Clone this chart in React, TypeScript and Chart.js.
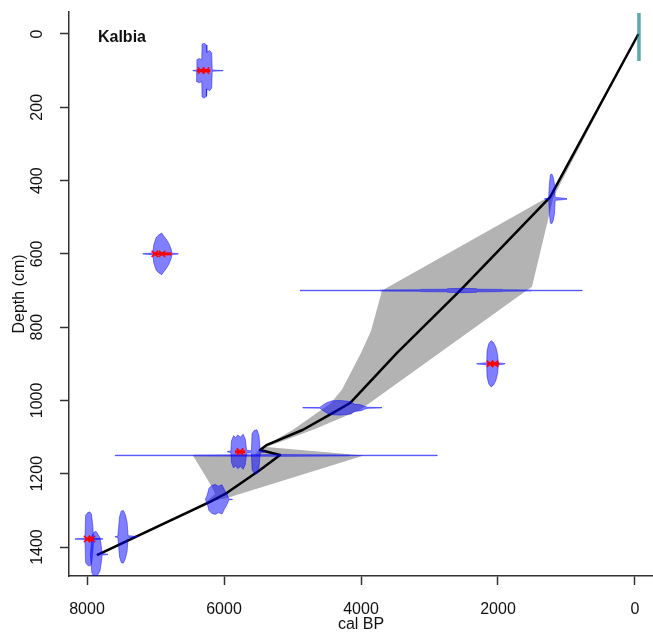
import React, { useEffect, useRef } from 'react';
import { Chart, registerables } from 'chart.js';

Chart.register(...registerables);

// ---- axes ----
const xTicks = [0, 2000, 4000, 6000, 8000];
const yTicks = [0, 200, 400, 600, 800, 1000, 1200, 1400];
const xMin = -263;
const xMax = 8263;
const yMin = -60;
const yMax = 1479;

// ---- best age-depth model (cal BP, depth cm) ----
const bestAge = [-50, 1240, 2555, 3474, 4160, 4409, 4847, 5372, 5474, 5182, 5474, 5956, 6204, 7854];
const bestDepth = [0, 445, 700, 870, 1007, 1034, 1080, 1121, 1135, 1149, 1190, 1252, 1277, 1422];

// ---- confidence envelope ----
const envOldAge = [-50, 1240, 1343, 3693, 3853, 3999, 4277, 4438, 4993, 5500, 5540, 6453, 6175, 6130, 6260, 7890];
const envOldDepth = [0, 445, 453, 700, 810, 870, 970, 1007, 1080, 1135, 1148, 1150, 1236, 1255, 1277, 1422];
const envYoungAge = [7820, 6180, 5956, 3960, 5380, 4700, 4015, 1635, 1504, 1190, -50];
const envYoungDepth = [1422, 1275, 1266, 1150, 1127, 1080, 1026, 707, 690, 445, 0];

// ---- calibrated dates: [cal BP, half-height in cm] ----
const dist100 = [[6455, 0.5], [6400, 1.5], [6396, 30], [6360, 33], [6325, 30], [6320, 72], [6290, 75], [6255, 70], [6250, 50], [6210, 55], [6180, 48], [6172, 2], [6100, 1], [6015, 0.5]];
const dist450 = [[1320, 0.5], [1260, 2], [1250, 40], [1235, 66], [1215, 68], [1195, 60], [1175, 40], [1165, 4], [1100, 3], [1000, 1]];
const dist600 = [[7185, 0.5], [7100, 1.5], [7040, 3], [7025, 25], [6990, 45], [6950, 52], [6910, 57], [6885, 50], [6850, 42], [6810, 30], [6775, 15], [6760, 2], [6700, 1], [6670, 0.5]];
const dist700 = [[4890, 0.8], [3730, 0.8], [3720, 1.5], [3140, 2], [3130, 3], [2750, 3.5], [2740, 5], [2500, 6], [2310, 5], [2300, 3.5], [1930, 3], [1920, 2], [1510, 1.5], [1500, 0.8], [775, 0.8]];
const dist900 = [[2310, 0.5], [2250, 1.5], [2165, 3], [2160, 35], [2135, 55], [2100, 63], [2065, 58], [2030, 45], [2005, 25], [1995, 3], [1900, 0.5]];
const dist1020 = [[4850, 0.5], [4600, 1], [4560, 7], [4500, 14], [4420, 19], [4300, 20], [4150, 17], [4100, 10], [4000, 8], [3950, 4], [3900, 1.5], [3700, 0.5]];
const dist1140 = [[5950, 0.5], [5900, 2], [5890, 30], [5860, 44], [5830, 38], [5800, 46], [5760, 40], [5720, 48], [5690, 35], [5670, 4], [5600, 3], [5590, 50], [5560, 58], [5520, 60], [5490, 45], [5470, 3], [5400, 0.5]];
const dist1150 = [[7590, 0.8], [6450, 0.8], [6440, 1.5], [5500, 2], [5200, 2.5], [4800, 2], [4200, 1.5], [4150, 0.8], [2890, 0.8]];
const dist1270 = [[6270, 1], [6245, 12], [6220, 30], [6180, 38], [6130, 41], [6080, 36], [6030, 40], [5990, 25], [5950, 12], [5930, 1], [5880, 0.5]];
const dist1372 = [[7590, 0.5], [7550, 2], [7525, 55], [7500, 70], [7470, 72], [7440, 60], [7415, 40], [7400, 3], [7330, 2], [7270, 0.5]];
const dist1378 = [[8175, 0.5], [8100, 1], [8030, 2], [8020, 65], [7990, 72], [7960, 74], [7935, 68], [7915, 35], [7905, 2], [7800, 1], [7770, 0.5]];
const dist1420 = [[7950, 1], [7930, 50], [7900, 60], [7870, 63], [7840, 55], [7810, 45], [7790, 20], [7780, 2], [7700, 0.5]];

const dateDepths = [100, 450, 600, 700, 900, 1020, 1140, 1150, 1270, 1372, 1378, 1420];
const dateDists = [dist100, dist450, dist600, dist700, dist900, dist1020, dist1140, dist1150, dist1270, dist1372, dist1378, dist1420];

// ---- surface date ----
const surfaceAge = -58;
const surfaceDepths = [-57, 74];

// ---- outliers (hpd ranges and markers) ----
const outlierDepths = [100, 600, 900, 1140, 1378];
const outlierFrom = [6394, 7036, 2160, 5840, 8030];
const outlierTo = [6200, 6765, 1985, 5690, 7910];
const outlierCrossA = [6335, 7010, 2116, 5766, 8000];
const outlierCrossB = [6262, 6905, 2044, 5766, 7927];

const siteName = 'Kalbia';
const siteLabelAge = 7840;
const siteLabelDepth = 10;

const FONT = "'Liberation Sans', Arial, Helvetica, sans-serif";

function distPolygon(depth: number, dist: number[][]) {
  const top = dist.map(([a, h]) => ({ x: a, y: depth - h }));
  const bottom = dist.slice().reverse().map(([a, h]) => ({ x: a, y: depth + h }));
  return [...top, ...bottom, top[0]];
}

function zeroPadding(scale: any) {
  scale.paddingLeft = 0;
  scale.paddingRight = 0;
  scale.paddingTop = 0;
  scale.paddingBottom = 0;
}

export default function App() {
  const ref = useRef<HTMLCanvasElement>(null);

  useEffect(() => {
    document.body.style.margin = '0';
    const envelope = [
      ...envOldAge.map((a, i) => ({ x: a, y: envOldDepth[i] })),
      ...envYoungAge.map((a, i) => ({ x: a, y: envYoungDepth[i] })),
    ];
    const datasets: any[] = [];
    datasets.push({
      data: envelope,
      showLine: true,
      fill: 'shape',
      backgroundColor: '#b3b3b3',
      borderWidth: 0,
      borderColor: 'rgba(0,0,0,0)',
      pointRadius: 0,
      order: 10,
    });
    datasets.push({
      data: bestAge.map((a, i) => ({ x: a, y: bestDepth[i] })),
      showLine: true,
      fill: false,
      borderColor: '#000000',
      borderWidth: 2.5,
      borderJoinStyle: 'round',
      pointRadius: 0,
      order: 6,
    });
    dateDists.forEach((d, i) => {
      datasets.push({
        data: distPolygon(dateDepths[i], d),
        showLine: true,
        fill: 'shape',
        backgroundColor: 'rgba(0,0,255,0.5)',
        borderColor: 'rgba(0,0,255,0.45)',
        borderWidth: 1,
        borderJoinStyle: 'round',
        pointRadius: 0,
        order: 4,
      });
    });
    datasets.push({
      data: surfaceDepths.map((d) => ({ x: surfaceAge, y: d })),
      showLine: true,
      fill: false,
      borderColor: 'rgba(0,128,128,0.65)',
      borderWidth: 3.5,
      pointRadius: 0,
      order: 3,
    });
    outlierDepths.forEach((d, i) => {
      datasets.push({
        data: [{ x: outlierFrom[i], y: d }, { x: outlierTo[i], y: d }],
        showLine: true,
        fill: false,
        borderColor: '#ff0000',
        borderWidth: 3,
        pointRadius: 0,
        order: 2,
      });
    });
    datasets.push({
      data: [
        ...outlierDepths.map((d, i) => ({ x: outlierCrossA[i], y: d })),
        ...outlierDepths.map((d, i) => ({ x: outlierCrossB[i], y: d })),
      ],
      showLine: false,
      pointStyle: 'crossRot',
      pointRadius: 4.5,
      pointBorderColor: '#ff0000',
      pointBorderWidth: 1.5,
      pointBackgroundColor: '#ff0000',
      order: 1,
    });

    const labelPlugin = {
      id: 'siteLabel',
      afterDatasetsDraw(chart: any) {
        const { ctx, scales } = chart;
        ctx.save();
        ctx.font = `bold 16px ${FONT}`;
        ctx.fillStyle = '#111111';
        ctx.textAlign = 'left';
        ctx.textBaseline = 'middle';
        ctx.fillText(siteName, scales.x.getPixelForValue(siteLabelAge), scales.y.getPixelForValue(siteLabelDepth));
        ctx.restore();
      },
    };

    const chart = new Chart(ref.current as HTMLCanvasElement, {
      type: 'scatter',
      data: { datasets },
      options: {
        animation: false,
        responsive: false,
        events: [],
        layout: { autoPadding: false, padding: { top: 12, right: 0, bottom: 0, left: 0 } },
        plugins: { legend: { display: false }, tooltip: { enabled: false } },
        scales: {
          x: {
            type: 'linear',
            reverse: true,
            min: xMin,
            max: xMax,
            afterBuildTicks: (scale: any) => {
              scale.ticks = xTicks.map((v) => ({ value: v }));
            },
            afterFit: (scale: any) => {
              scale.height = 58;
              zeroPadding(scale);
            },
            grid: { drawOnChartArea: false, drawTicks: true, tickLength: 9, tickWidth: 1.5, tickColor: '#333333' },
            border: { display: true, color: '#333333', width: 1.5 },
            ticks: {
              autoSkip: false,
              maxRotation: 0,
              padding: 15,
              color: '#111111',
              font: { family: FONT, size: 16 },
              callback: (v: any) => String(v),
            },
            title: {
              display: true,
              text: 'cal BP',
              color: '#111111',
              font: { family: FONT, size: 16 },
              padding: { top: 0, bottom: 0 },
            },
          },
          y: {
            type: 'linear',
            reverse: true,
            min: yMin,
            max: yMax,
            afterBuildTicks: (scale: any) => {
              scale.ticks = yTicks.map((v) => ({ value: v }));
            },
            afterFit: (scale: any) => {
              scale.width = 69;
              zeroPadding(scale);
            },
            grid: { drawOnChartArea: false, drawTicks: true, tickLength: 9, tickWidth: 1.5, tickColor: '#333333' },
            border: { display: true, color: '#333333', width: 1.5 },
            ticks: {
              autoSkip: false,
              minRotation: 90,
              maxRotation: 90,
              crossAlign: 'center',
              padding: 5,
              color: '#111111',
              font: { family: FONT, size: 16 },
              callback: (v: any) => String(v),
            },
            title: {
              display: true,
              text: 'Depth (cm)',
              color: '#111111',
              font: { family: FONT, size: 16 },
              padding: { top: 10, bottom: 0 },
            },
          },
        },
      },
      plugins: [labelPlugin],
    } as any);
    return () => chart.destroy();
  }, []);

  return (
    <div style={{ width: 653, height: 634 }}>
      <canvas ref={ref} width={653} height={634} style={{ display: 'block' }} />
    </div>
  );
}
